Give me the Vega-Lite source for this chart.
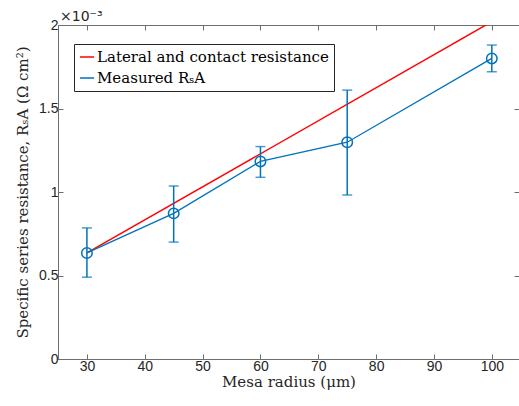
{
  "$schema": "https://vega.github.io/schema/vega-lite/v6.json",
  "width": 461,
  "height": 334,
  "autosize": {"type": "none"},
  "padding": {"left": 58, "top": 25, "right": 0, "bottom": 47},
  "background": "white",
  "title": {"text": "×10⁻³", "anchor": "start", "frame": "group", "offset": -6, "dx": 2, "font": "DejaVu Sans", "fontSize": 14, "fontWeight": "normal", "color": "#262626"},
  "config": {
    "view": {"stroke": "#6e6e6e", "strokeWidth": 1},
    "axis": {
      "domainColor": "#6e6e6e", "tickColor": "#6e6e6e", "tickSize": -5, "grid": false,
      "labelFont": "Liberation Sans", "labelFontSize": 14, "labelColor": "#262626",
      "titleFont": "DejaVu Serif", "titleFontSize": 15, "titleFontWeight": "normal", "titleColor": "#262626"
    }
  },
  "datasets": {
    "meas": [
      {"r": 30, "v": 0.635, "lo": 0.49, "hi": 0.785, "series": "Measured RₛA"},
      {"r": 45, "v": 0.872, "lo": 0.70, "hi": 1.036, "series": "Measured RₛA"},
      {"r": 60, "v": 1.183, "lo": 1.088, "hi": 1.272, "series": "Measured RₛA"},
      {"r": 75, "v": 1.298, "lo": 0.982, "hi": 1.61, "series": "Measured RₛA"},
      {"r": 100, "v": 1.80, "lo": 1.72, "hi": 1.88, "series": "Measured RₛA"}
    ],
    "model": [
      {"r": 30, "v": 0.635, "series": "Lateral and contact resistance"},
      {"r": 100, "v": 2.02, "series": "Lateral and contact resistance"}
    ]
  },
  "layer": [
    {
      "data": {"name": "model"},
      "mark": {"type": "line", "strokeWidth": 1.5, "clip": true},
      "encoding": {
        "x": {"field": "r", "type": "quantitative", "scale": {"domain": [25, 104.7], "nice": false, "zero": false},
              "axis": {"values": [30, 40, 50, 60, 70, 80, 90, 100], "title": "Mesa radius (μm)", "labelPadding": 5, "titlePadding": 1}},
        "y": {"field": "v", "type": "quantitative", "scale": {"domain": [0, 2], "nice": false},
              "axis": {"values": [0, 0.5, 1, 1.5, 2], "format": "~g", "title": "Specific series resistance, RₛA (Ω cm²)", "labelPadding": 5, "titlePadding": 8}},
        "color": {"field": "series", "type": "nominal",
                  "scale": {"domain": ["Lateral and contact resistance", "Measured RₛA"], "range": ["#ff0000", "#0072bd"]},
                  "legend": {"orient": "none", "legendX": 16, "legendY": 19, "title": null,
                             "strokeColor": "#262626", "fillColor": "white", "padding": 5,
                             "labelFont": "DejaVu Serif", "labelFontSize": 15, "labelColor": "#000", "labelLimit": 400,
                             "symbolType": "stroke", "symbolSize": 200, "symbolStrokeWidth": 1.5, "rowPadding": 5, "labelOffset": 2}}
      }
    },
    {
      "data": {"name": "meas"},
      "mark": {"type": "line", "strokeWidth": 1.3, "color": "#0072bd"},
      "encoding": {
        "x": {"field": "r", "type": "quantitative", "axis": null},
        "y": {"field": "v", "type": "quantitative", "axis": null}
      }
    },
    {
      "data": {"name": "meas"},
      "mark": {"type": "errorbar", "ticks": {"size": 10, "thickness": 1.5}, "rule": {"strokeWidth": 1.5}, "color": "#0072bd"},
      "encoding": {
        "x": {"field": "r", "type": "quantitative", "axis": null},
        "y": {"field": "lo", "type": "quantitative", "axis": null},
        "y2": {"field": "hi"}
      }
    },
    {
      "data": {"name": "meas"},
      "mark": {"type": "point", "shape": "circle", "filled": false, "size": 110, "strokeWidth": 1.5, "color": "#0072bd", "opacity": 1},
      "encoding": {
        "x": {"field": "r", "type": "quantitative", "axis": null},
        "y": {"field": "v", "type": "quantitative", "axis": null}
      }
    },
    {
      "data": {"name": "meas"},
      "mark": {"type": "point", "opacity": 0},
      "encoding": {
        "x": {"field": "r", "type": "quantitative", "axis": {"orient": "top", "values": [30, 40, 50, 60, 70, 80, 90, 100], "labels": false, "title": null}},
        "y": {"field": "v", "type": "quantitative", "axis": {"orient": "right", "values": [0, 0.5, 1, 1.5, 2], "labels": false, "title": null}}
      }
    }
  ],
  "resolve": {"axis": {"x": "independent", "y": "independent"}}
}
